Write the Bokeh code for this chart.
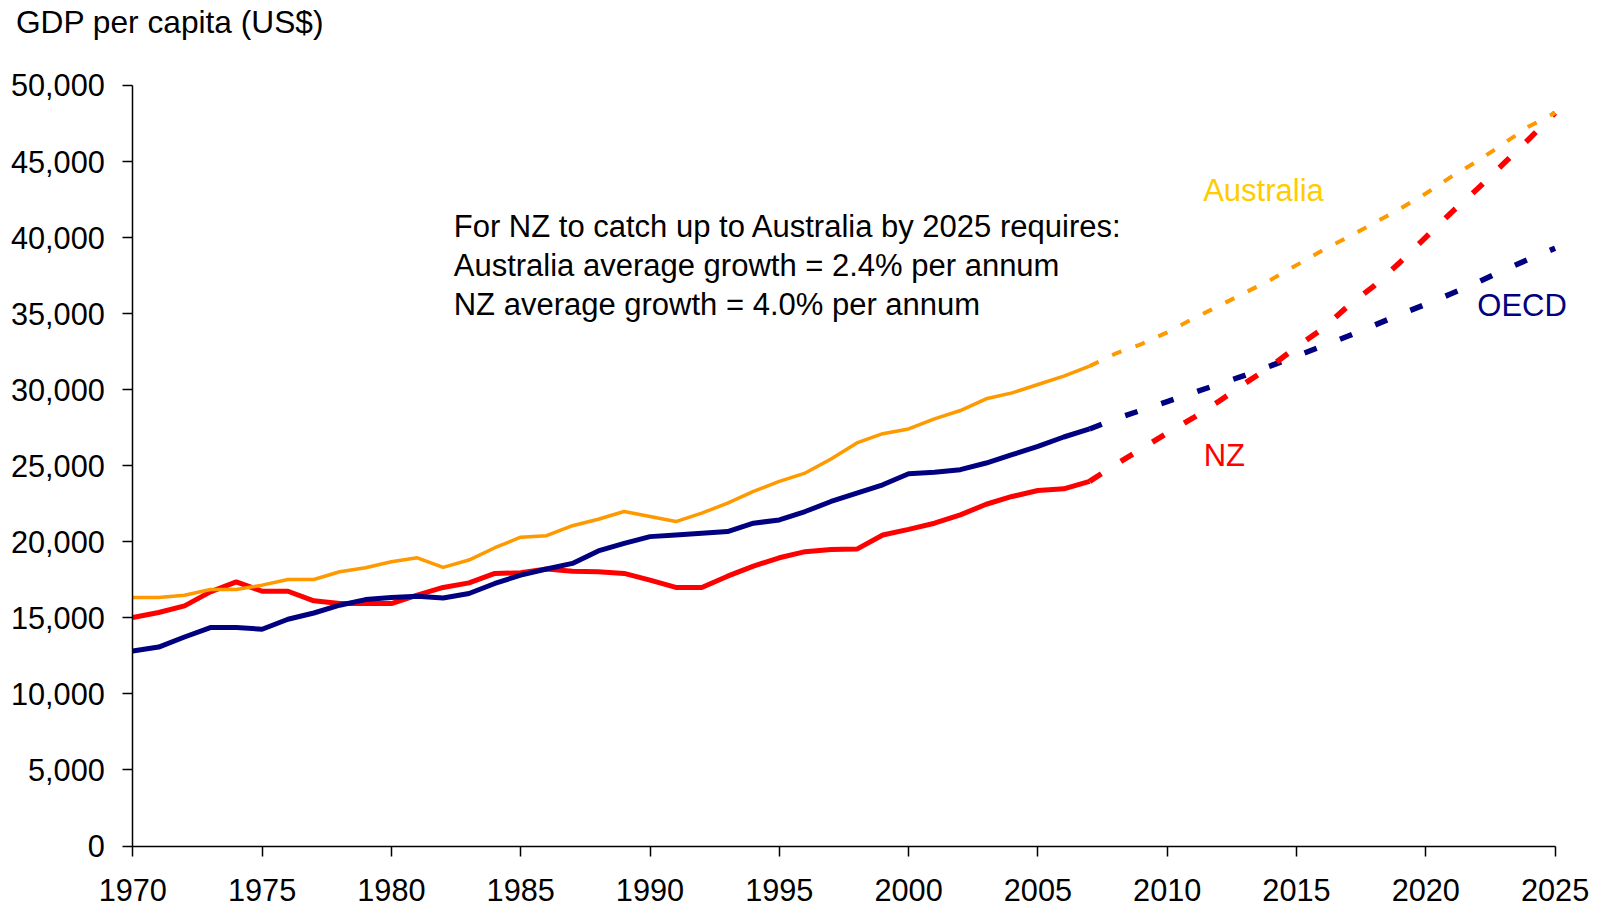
from bokeh.plotting import figure
from bokeh.models import Range1d, FixedTicker, NumeralTickFormatter, Label
from bokeh.embed import file_html
from bokeh.resources import INLINE

# ---- data ----
years_hist = list(range(1970, 2008))
australia = [16340, 16340, 16490, 16860, 16860, 17150, 17520, 17520, 18030, 18290,
             18690, 18950, 18320, 18800, 19610, 20300, 20400, 21060, 21480, 21990,
             21660, 21330, 21880, 22540, 23310, 23970, 24520, 25440, 26500, 27110,
             27420, 28080, 28630, 29400, 29790, 30340, 30890, 31550]
nz = [15020, 15350, 15790, 16710, 17370, 16750, 16750, 16120, 15940, 15940,
      15940, 16490, 17000, 17300, 17920, 17960, 18210, 18070, 18030, 17920,
      17480, 17000, 17000, 17740, 18400, 18950, 19350, 19500, 19520, 20450,
      20820, 21220, 21770, 22470, 22980, 23370, 23480, 23970]
oecd = [12820, 13080, 13740, 14360, 14360, 14250, 14910, 15320, 15830, 16200,
        16340, 16420, 16310, 16600, 17260, 17810, 18210, 18580, 19400, 19900,
        20340, 20450, 20560, 20670, 21220, 21440, 21990, 22650, 23200, 23750,
        24470, 24580, 24740, 25180, 25730, 26270, 26890, 27420]

years_proj = list(range(2007, 2026))
australia_proj = [31550, 32370, 33000, 33770, 34670, 35510, 36370, 37220, 38190, 39160,
                  40040, 40960, 41890, 42900, 44020, 45030, 46170, 47320, 48200]
nz_proj = [23970, 25070, 26100, 27150, 28140, 29240, 30410, 31530, 32800, 34000,
           35510, 36830, 38370, 40020, 41670, 43210, 44850, 46500, 48200]
oecd_proj = [27420, 28080, 28650, 29220, 29790, 30370, 30940, 31570, 32210, 32870,
             33530, 34230, 34940, 35620, 36320, 37050, 37860, 38590, 39300]

x_ticks = list(range(1970, 2026, 5))
y_ticks = list(range(0, 50001, 5000))

FONT = "Liberation Sans"
ORANGE = "#FF9900"
RED = "#FF0000"
NAVY = "#000080"

# the frame covers the whole canvas; axes sit at fixed data locations
p = figure(width=1598, height=907,
           x_range=Range1d(1964.884, 2026.678), y_range=Range1d(-4043, 55588),
           output_backend="svg", toolbar_location=None,
           min_border_left=0, min_border_right=0,
           min_border_top=0, min_border_bottom=0)

p.outline_line_color = None
p.xgrid.grid_line_color = None
p.ygrid.grid_line_color = None
p.background_fill_color = "white"
p.border_fill_color = "white"

for ax in (p.xaxis[0], p.yaxis[0]):
    ax.axis_line_color = "black"
    ax.axis_line_width = 1.5
    ax.major_tick_line_color = "black"
    ax.major_tick_line_width = 1.5
    ax.major_tick_out = 10
    ax.major_tick_in = 0
    ax.minor_tick_line_color = None
    ax.major_label_text_font = FONT
    ax.major_label_text_font_size = "30.7px"
    ax.major_label_text_color = "black"

p.xaxis.ticker = FixedTicker(ticks=x_ticks)
p.yaxis.ticker = FixedTicker(ticks=y_ticks)
p.xaxis.bounds = (1970, 2025)
p.yaxis.bounds = (0, 50000)
p.xaxis.fixed_location = 0
p.yaxis.fixed_location = 1970
p.xaxis.formatter = NumeralTickFormatter(format="0")
p.yaxis.formatter = NumeralTickFormatter(format="0,0")
p.yaxis.major_label_standoff = 18
p.xaxis.major_label_standoff = 23

# historical lines
p.line(years_hist, nz, line_color=RED, line_width=5)
p.line(years_hist, oecd, line_color=NAVY, line_width=5)
p.line(years_hist, australia, line_color=ORANGE, line_width=3.5)

# projections
p.line(years_proj, oecd_proj, line_color=NAVY, line_width=5.5, line_dash="13 25")
p.line(years_proj, nz_proj, line_color=RED, line_width=5.5, line_dash="14 23")
p.line(years_proj, australia_proj, line_color=ORANGE, line_width=4, line_dash="10 15")

# texts
p.add_layout(Label(x=1965.48, y=54160, text="GDP per capita (US$)", text_font=FONT,
                   text_font_size="31.7px", text_color="black",
                   text_baseline="alphabetic"))

notes = ["For NZ to catch up to Australia by 2025 requires:",
         "Australia average growth = 2.4% per annum",
         "NZ average growth = 4.0% per annum"]
note_y = [40720, 38160, 35590]
for t, yy in zip(notes, note_y):
    p.add_layout(Label(x=1982.41, y=yy, text=t, text_font=FONT,
                       text_font_size="31px", text_color="black",
                       text_baseline="alphabetic"))

p.add_layout(Label(x=2011.39, y=43090, text="Australia", text_font=FONT,
                   text_font_size="31px", text_color="#FFCC00",
                   text_baseline="alphabetic"))
p.add_layout(Label(x=2011.41, y=25660, text="NZ", text_font=FONT,
                   text_font_size="31px", text_color=RED,
                   text_baseline="alphabetic"))
p.add_layout(Label(x=2021.99, y=35530, text="OECD", text_font=FONT,
                   text_font_size="31px", text_color=NAVY,
                   text_baseline="alphabetic"))

open("out.html", "w").write(file_html(p, INLINE))
